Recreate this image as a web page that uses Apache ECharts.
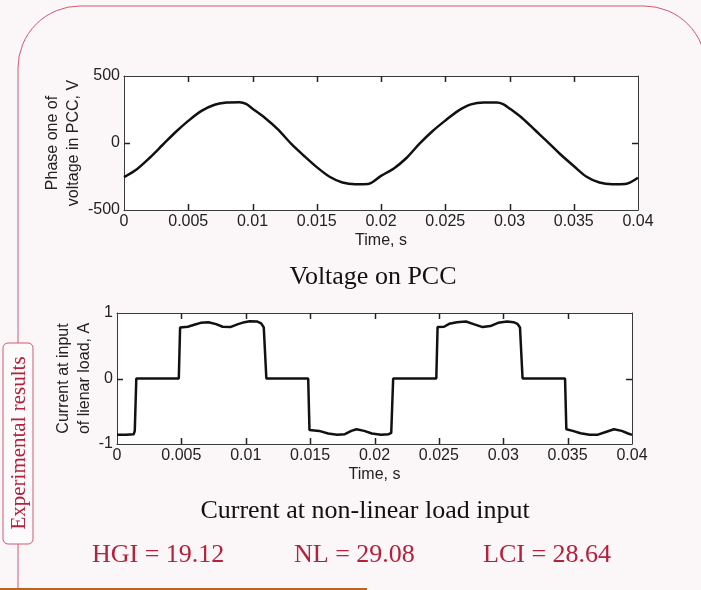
<!DOCTYPE html>
<html>
<head>
<meta charset="utf-8">
<script src="https://cdn.jsdelivr.net/npm/echarts@6/dist/echarts.min.js"></script>
<style>
  html, body { margin: 0; padding: 0; background: #fbf6f8; }
  #main { width: 701px; height: 590px; }
</style>
</head>
<body>
<div id="main"></div>
<script>
// voltage on PCC
var voltTime = [0, 0.001, 0.002, 0.003, 0.004, 0.005, 0.006, 0.007, 0.008, 0.009, 0.0095, 0.010, 0.011, 0.012, 0.013, 0.014, 0.015, 0.016, 0.017, 0.018, 0.019, 0.020,
  0.021, 0.022, 0.023, 0.024, 0.025, 0.026, 0.027, 0.028, 0.029, 0.0295, 0.030, 0.031, 0.032, 0.033, 0.034, 0.035, 0.036, 0.037, 0.038, 0.039, 0.040];
var voltage = [-254, -195, -110, -15, 80, 165, 238, 284, 302, 305, 292, 256, 185, 100, -5, -95, -180, -252, -295, -308, -306, -245,
  -190, -110, -5, 88, 167, 240, 288, 302, 302, 290, 258, 185, 95, 5, -88, -172, -252, -295, -308, -306, -259];

// current at non-linear load input
var currTime = [0, 0.0007, 0.0013, 0.00138, 0.0015, 0.0048, 0.0049, 0.0055, 0.006, 0.0065, 0.0071, 0.0077, 0.0082, 0.0088, 0.0094, 0.0099, 0.0103, 0.0109, 0.0112, 0.0114, 0.0116,
  0.01485, 0.01495, 0.0157, 0.0164, 0.0171, 0.0177, 0.0182, 0.0186, 0.0192, 0.0198, 0.0205, 0.0211, 0.0213, 0.02145,
  0.0248, 0.0249, 0.0254, 0.0258, 0.0264, 0.0271, 0.0277, 0.0284, 0.029, 0.0296, 0.0303, 0.0308, 0.0311, 0.0313, 0.0315,
  0.0348, 0.0349, 0.0354, 0.036, 0.0367, 0.0373, 0.0379, 0.0386, 0.0392, 0.0397, 0.040];
var current = [-0.86, -0.86, -0.85, -0.8, 0, 0, 0.78, 0.79, 0.82, 0.85, 0.86, 0.83, 0.79, 0.785, 0.83, 0.86, 0.875, 0.87, 0.84, 0.78, 0,
  0, -0.785, -0.8, -0.84, -0.86, -0.85, -0.8, -0.775, -0.8, -0.84, -0.86, -0.85, -0.83, 0,
  0, 0.785, 0.79, 0.835, 0.86, 0.87, 0.83, 0.785, 0.8, 0.85, 0.87, 0.86, 0.835, 0.78, 0,
  0, -0.775, -0.8, -0.835, -0.86, -0.86, -0.82, -0.775, -0.8, -0.84, -0.86];

// inner tick positions (MATLAB style box ticks)
var timeTicks = [0.005, 0.01, 0.015, 0.02, 0.025, 0.03, 0.035];

var summary = ['HGI = 19.12', 'NL = 29.08', 'LCI = 28.64'];

var zip = function (xs, ys) {
  return xs.map(function (x, i) { return [x, ys[i]]; });
};

var axisColor = '#3a3a3a';
var labelStyle = { color: '#222', fontSize: 16, fontFamily: 'Liberation Sans' };

// x axis, bottom one carries labels, top one only the line
const xAx = (grid, pos, showLabel) => ({
  type: 'value', gridIndex: grid, position: pos,
  min: 0, max: 0.04, interval: 0.005,
  name: showLabel ? 'Time, s' : '', nameLocation: 'middle', nameGap: 23,
  nameTextStyle: labelStyle,
  axisLine: { show: true, onZero: false, lineStyle: { color: axisColor, width: 1 } },
  axisTick: { show: false },
  axisLabel: { show: showLabel, margin: 4, ...labelStyle, formatter: function (v) { return String(+v.toFixed(3)); } },
  splitLine: { show: false }
});

const yAx = (grid, pos, showLabel, min, max, step, name, gap) => ({
  type: 'value', gridIndex: grid, position: pos,
  min: min, max: max, interval: step,
  name: showLabel ? name : '', nameLocation: 'middle', nameRotate: 90, nameGap: gap,
  nameMoveOverlap: false,
  nameTextStyle: { ...labelStyle, lineHeight: 21 },
  axisLine: { show: true, onZero: false, lineStyle: { color: axisColor, width: 1 } },
  axisTick: { show: false },
  axisLabel: { show: showLabel, margin: 4, ...labelStyle },
  splitLine: { show: false }
});

var crimson = '#b3213b';

var chart = echarts.init(document.getElementById('main'));
var option = {
  backgroundColor: '#fbf6f8',
  animation: false,
  grid: [
    { left: 124, top: 76, width: 514, height: 134 },
    { left: 117, top: 313, width: 515, height: 131 }
  ],
  xAxis: [xAx(0, 'bottom', true), xAx(0, 'top', false), xAx(1, 'bottom', true), xAx(1, 'top', false)],
  yAxis: [
    yAx(0, 'left', true, -500, 500, 500, 'Phase one of\nvoltage in PCC, V', 40),
    yAx(0, 'right', false, -500, 500, 500, '', 0),
    yAx(1, 'left', true, -1, 1, 1, 'Current at input\nof lienar load, A', 22),
    yAx(1, 'right', false, -1, 1, 1, '', 0)
  ],
  series: [
    {
      type: 'line', xAxisIndex: 0, yAxisIndex: 0, data: zip(voltTime, voltage),
      showSymbol: false, smooth: 0.3, lineStyle: { color: '#111', width: 2.5 }
    },
    {
      type: 'line', xAxisIndex: 2, yAxisIndex: 2, data: zip(currTime, current),
      showSymbol: false, lineStyle: { color: '#111', width: 2.5 }
    }
  ],
  graphic: [
    // slide frame
    { type: 'rect', z: -10, shape: { x: 18, y: 6, width: 688, height: 800, r: 62 },
      style: { fill: null, stroke: '#cf5a72', lineWidth: 1 } },
    { type: 'line', z: -10, shape: { x1: 0, y1: 589, x2: 367, y2: 589 },
      style: { stroke: '#b8652a', lineWidth: 2 } },
    { type: 'rect', shape: { x: 3, y: 343, width: 30, height: 201, r: 5 },
      style: { fill: '#fdfafb', stroke: '#cf5a72', lineWidth: 1 } },
    { type: 'text', x: 19, y: 443, rotation: Math.PI / 2,
      style: { text: 'Experimental results', fill: crimson, font: '21px "Liberation Serif"', align: 'center', verticalAlign: 'middle' } },
    // captions
    { type: 'text', x: 373, y: 277,
      style: { text: 'Voltage on PCC', fill: '#111', font: '26px "Liberation Serif"', align: 'center', verticalAlign: 'middle' } },
    { type: 'text', x: 365, y: 511,
      style: { text: 'Current at non-linear load input', fill: '#111', font: '26px "Liberation Serif"', align: 'center', verticalAlign: 'middle' } },
    { type: 'text', x: 92, y: 555,
      style: { text: summary[0], fill: crimson, font: '26px "Liberation Serif"', align: 'left', verticalAlign: 'middle' } },
    { type: 'text', x: 294, y: 555,
      style: { text: summary[1], fill: crimson, font: '26px "Liberation Serif"', align: 'left', verticalAlign: 'middle' } },
    { type: 'text', x: 483, y: 555,
      style: { text: summary[2], fill: crimson, font: '26px "Liberation Serif"', align: 'left', verticalAlign: 'middle' } }
  ]
};
chart.setOption(option);

// white plot areas and inward ticks, placed from the axes' own scales
var extra = [];
var tick = function (x1, y1, x2, y2) {
  return { type: 'line', z: 20, silent: true,
    shape: { x1: Math.round(x1) + 0.5, y1: y1, x2: Math.round(x2) + 0.5, y2: y2 },
    style: { stroke: '#222', lineWidth: 1.5 } };
};
var htick = function (x1, y1, x2) {
  return { type: 'line', z: 20, silent: true,
    shape: { x1: x1, y1: Math.round(y1) + 0.5, x2: x2, y2: Math.round(y1) + 0.5 },
    style: { stroke: '#222', lineWidth: 1.5 } };
};
[[0, 0, -500, 500], [2, 2, -1, 1]].forEach(function (p) {
  var finder = { xAxisIndex: p[0], yAxisIndex: p[1] };
  var a = chart.convertToPixel(finder, [0, p[3]]);
  var b = chart.convertToPixel(finder, [0.04, p[2]]);
  extra.push({ type: 'rect', z: -5, shape: { x: a[0], y: a[1], width: b[0] - a[0], height: b[1] - a[1] },
    style: { fill: '#ffffff' } });
  timeTicks.forEach(function (t) {
    var bot = chart.convertToPixel(finder, [t, p[2]]);
    var top = chart.convertToPixel(finder, [t, p[3]]);
    extra.push(tick(bot[0], bot[1], bot[0], bot[1] - 6));
    extra.push(tick(top[0], top[1], top[0], top[1] + 6));
  });
  var l = chart.convertToPixel(finder, [0, 0]);
  var r = chart.convertToPixel(finder, [0.04, 0]);
  extra.push(htick(l[0], l[1], l[0] + 6));
  extra.push(htick(r[0], r[1], r[0] - 6));
});
chart.setOption({ graphic: option.graphic.concat(extra) });
</script>
</body>
</html>
